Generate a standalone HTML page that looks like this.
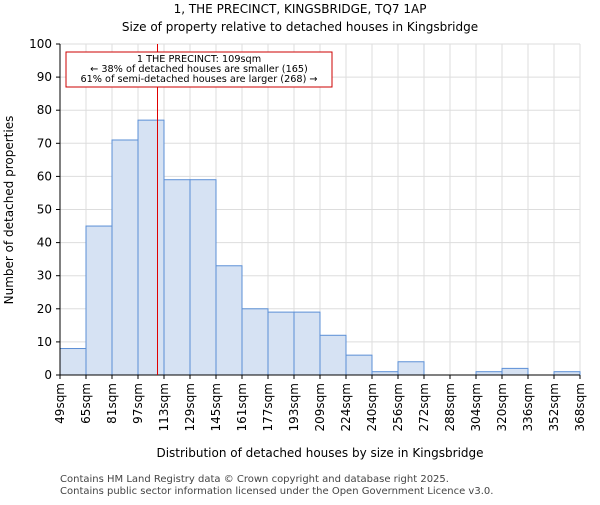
<!DOCTYPE html>
<html><head><meta charset="utf-8"><style>
body{margin:0;background:#fff;}
svg text{font-family:"DejaVu Sans","Liberation Sans",sans-serif;}
</style></head><body>
<svg id="chart" width="600" height="500" xmlns="http://www.w3.org/2000/svg">
<text x="300" y="13" text-anchor="middle" font-size="12">1, THE PRECINCT, KINGSBRIDGE, TQ7 1AP</text>
<text x="300" y="31" text-anchor="middle" font-size="12">Size of property relative to detached houses in Kingsbridge</text>
<g id="grid"></g><g id="bars"></g><g id="axes"></g>
<text x="320" y="457" text-anchor="middle" font-size="12">Distribution of detached houses by size in Kingsbridge</text>
<text transform="translate(13,210) rotate(-90)" text-anchor="middle" font-size="12">Number of detached properties</text>
<text x="60" y="482" font-size="10" fill="#444">Contains HM Land Registry data © Crown copyright and database right 2025.</text>
<text x="60" y="494" font-size="10" fill="#444">Contains public sector information licensed under the Open Government Licence v3.0.</text>
</svg>
<script>
const labels=["49sqm","65sqm","81sqm","97sqm","113sqm","129sqm","145sqm","161sqm","177sqm","193sqm","209sqm","224sqm","240sqm","256sqm","272sqm","288sqm","304sqm","320sqm","336sqm","352sqm","368sqm"];
const edges=[49,65,81,97,113,129,145,161,177,193,209,224,240,256,272,288,304,320,336,352,368];
const counts=[8,45,71,77,59,59,33,20,19,19,12,6,1,4,0,0,1,2,0,1];
const yTicks=[0,10,20,30,40,50,60,70,80,90,100];
const marker=109;
const X0=60,X1=580,Y0=375,Y1=44,NS="http://www.w3.org/2000/svg";
const xi=i=>X0+i*(X1-X0)/counts.length;
const xv=v=>{let i=0;while(i<edges.length-2&&v>edges[i+1])i++;return xi(i)+(v-edges[i])/(edges[i+1]-edges[i])*(X1-X0)/counts.length;};
const y=v=>Y0-v/100*(Y0-Y1);
function mk(t,a,p){const e=document.createElementNS(NS,t);for(const k in a)e.setAttribute(k,a[k]);p.appendChild(e);return e;}
const grid=document.getElementById('grid'),bars=document.getElementById('bars'),axes=document.getElementById('axes');
mk('rect',{x:X0,y:Y1,width:X1-X0,height:Y0-Y1,fill:'#fff'},grid);
yTicks.forEach(t=>{const l=mk('line',{x1:X0,x2:X1,y1:y(t),y2:y(t),stroke:'#ddd'},grid);

const tx=mk('text',{x:X0-8,y:y(t)+4,'text-anchor':'end','font-size':12},axes);tx.textContent=t;

mk('line',{x1:X0-4,x2:X0,y1:y(t),y2:y(t),stroke:'#000'},axes);});
labels.forEach((s,i)=>{const l=mk('line',{x1:xi(i),x2:xi(i),y1:Y1,y2:Y0,stroke:'#ddd'},grid);

mk('line',{x1:xi(i),x2:xi(i),y1:Y0,y2:Y0+4,stroke:'#000'},axes);
const tx=mk('text',{transform:`translate(${xi(i)+4},${Y0+8}) rotate(-90)`,'text-anchor':'end','font-size':12},axes);tx.textContent=s;
});
counts.forEach((c,i)=>{const r=mk('rect',{x:xi(i),y:y(c),width:xi(i+1)-xi(i),height:Y0-y(c),fill:'#d6e2f3',stroke:'#5b8fd6','stroke-width':1},bars);
});
mk('line',{x1:X0,x2:X0,y1:Y1,y2:Y0,stroke:'#000'},axes);
mk('line',{x1:X0,x2:X1,y1:Y0,y2:Y0,stroke:'#000'},axes);
const mx=xv(marker);
const ml=mk('line',{x1:mx,x2:mx,y1:Y1,y2:Y0,stroke:'#e00000','stroke-width':1},axes);

const g=mk('g',{},axes);
mk('rect',{x:66,y:52,width:266,height:35,fill:'#fff',stroke:'#cc0000'},g);
["1 THE PRECINCT: 109sqm","← 38% of detached houses are smaller (165)","61% of semi-detached houses are larger (268) →"].forEach((s,i)=>{
const t=mk('text',{x:199,y:62+i*10,'text-anchor':'middle','font-size':9.7},g);t.textContent=s;});
</script>
</body></html>
